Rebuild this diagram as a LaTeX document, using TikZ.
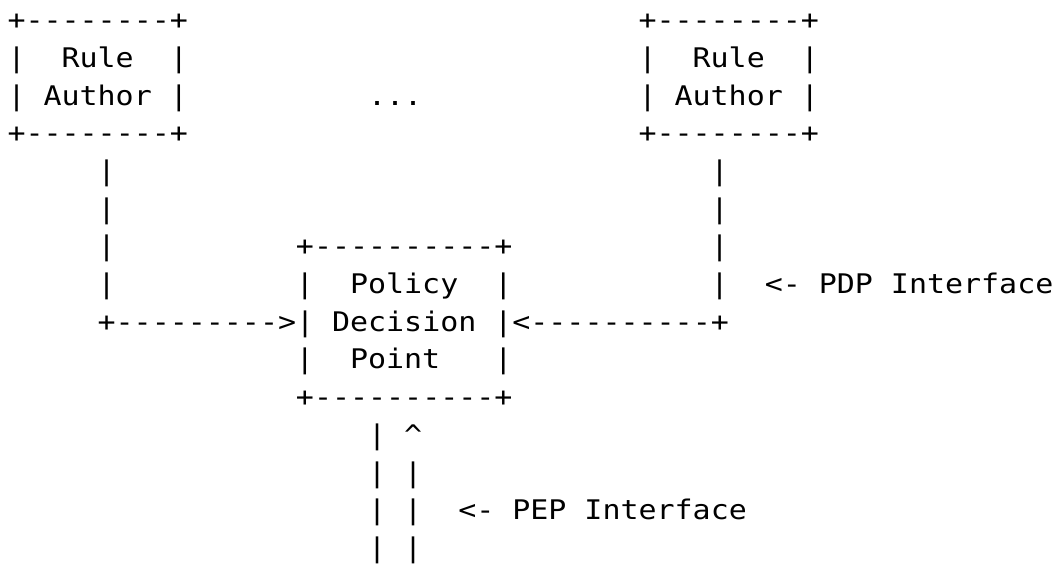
\documentclass[tikz,border=0pt]{standalone}
\usepackage{fontspec}
\setmonofont[FakeStretch=1.11]{DejaVu Sans Mono}
\tikzset{asc/.style={font=\ttfamily\fontsize{27}{30}\selectfont, inner sep=0pt, outer sep=0pt, anchor=base west, text=black}}
\newcommand\seg[4]{\node[asc] (#1) at ({(7.5+#2*18.03)*1pt}, {-(29.6+#3*37.7)*1pt}) {#4};}
\begin{document}
\begin{tikzpicture}
\useasboundingbox (0,0) rectangle (1063pt,-563pt);
% left Rule Author box
\seg{laTop}{0}{0}{+--------+}
\seg{laL1}{0}{1}{|}\seg{laRule}{3}{1}{Rule}\seg{laR1}{9}{1}{|}
\seg{laL2}{0}{2}{|}\seg{laAuthor}{2}{2}{Author}\seg{laR2}{9}{2}{|}
\seg{laBot}{0}{3}{+--------+}
% dots
\seg{dots}{20}{2}{...}
% right Rule Author box
\seg{raTop}{35}{0}{+--------+}
\seg{raL1}{35}{1}{|}\seg{raRule}{38}{1}{Rule}\seg{raR1}{44}{1}{|}
\seg{raL2}{35}{2}{|}\seg{raAuthor}{37}{2}{Author}\seg{raR2}{44}{2}{|}
\seg{raBot}{35}{3}{+--------+}
% verticals
\seg{lv4}{5}{4}{|}\seg{rv4}{39}{4}{|}
\seg{lv5}{5}{5}{|}\seg{rv5}{39}{5}{|}
\seg{lv6}{5}{6}{|}\seg{rv6}{39}{6}{|}
\seg{lv7}{5}{7}{|}\seg{rv7}{39}{7}{|}
% PDP box
\seg{pdpTop}{16}{6}{+----------+}
\seg{pdpL1}{16}{7}{|}\seg{pdpPolicy}{19}{7}{Policy}\seg{pdpR1}{27}{7}{|}
\seg{pdpLbl}{42}{7}{<-}\seg{pdpLblb}{45}{7}{PDP}\seg{pdpLblc}{49}{7}{Interface}
\seg{arrL}{5}{8}{+--------->|}
\seg{pdpDecision}{18}{8}{Decision}
\seg{arrR}{27}{8}{|<----------+}
\seg{pdpL3}{16}{9}{|}\seg{pdpPoint}{19}{9}{Point}\seg{pdpR3}{27}{9}{|}
\seg{pdpBot}{16}{10}{+----------+}
% PEP lines
\seg{pa11}{20}{11}{|}\seg{pb11}{22}{11}{\textasciicircum}
\seg{pa12}{20}{12}{|}\seg{pb12}{22}{12}{|}
\seg{pa13}{20}{13}{|}\seg{pb13}{22}{13}{|}
\seg{pepLbl}{25}{13}{<-}\seg{pepLblb}{28}{13}{PEP}\seg{pepLblc}{32}{13}{Interface}
\seg{pa14}{20}{14}{|}\seg{pb14}{22}{14}{|}
\end{tikzpicture}
\end{document}
